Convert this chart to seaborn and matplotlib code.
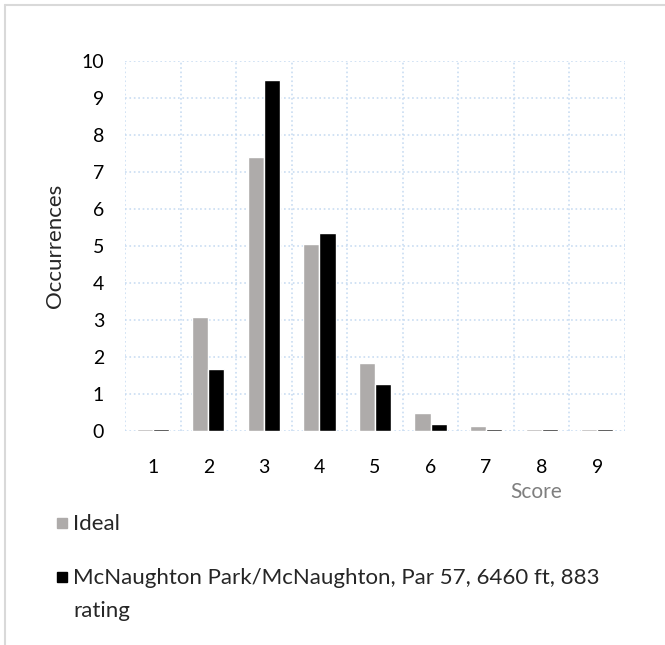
import numpy as np
import pandas as pd
import matplotlib
matplotlib.use('Agg')
import matplotlib.pyplot as plt
from matplotlib.patches import Rectangle
import seaborn as sns

# Данные
scores = [1, 2, 3, 4, 5, 6, 7, 8, 9]
ideal = [0.05, 3.07, 7.40, 5.05, 1.83, 0.50, 0.13, 0.05, 0.05]
course = [0.05, 1.68, 9.50, 5.36, 1.27, 0.18, 0.05, 0.05, 0.05]
series_names = ['Ideal', 'McNaughton Park/McNaughton, Par 57, 6460 ft, 883\nrating']

COLORS = {'ideal': '#AEABAA', 'course': '#000000', 'grid': '#C9DDF2'}

df = pd.DataFrame({
    'Score': scores * 2,
    'Occurrences': ideal + course,
    'Series': [series_names[0]] * len(scores) + [series_names[1]] * len(scores),
})

sns.set_style('white')
plt.rcParams['font.family'] = ['Lato', 'DejaVu Sans']

fig = plt.figure(figsize=(6.65, 6.45), dpi=100)
ax = fig.add_axes([125 / 665, 1 - 431 / 645, 500 / 665, 370 / 645])

sns.barplot(data=df, x='Score', y='Occurrences', hue='Series',
            palette=[COLORS['ideal'], COLORS['course']], width=0.58,
            saturation=1, ax=ax, legend=False)

ax.set_ylim(0, 10)
ax.set_xlim(-0.5, len(scores) - 0.5)
ax.set_yticks(range(0, 11))
ax.set_xticks(np.arange(-0.5, len(scores), 1), minor=True)
ax.grid(True, which='major', axis='y', color=COLORS['grid'], linestyle=':', linewidth=1.2)
ax.grid(True, which='minor', axis='x', color=COLORS['grid'], linestyle=':', linewidth=1.2)
ax.set_axisbelow(True)
for s in ax.spines.values():
    s.set_visible(False)
ax.tick_params(axis='both', which='both', length=0, labelsize=14, colors='#000000')
ax.tick_params(axis='y', pad=15)
ax.tick_params(axis='x', pad=20)

ax.set_xlabel('')
ax.set_ylabel('Occurrences', fontsize=16, labelpad=12)
fig.text(536 / 665, 1 - 492 / 645, 'Score', fontsize=15, color='#7F7F7F',
         ha='center', va='center')

# Легенда под графиком (вручную, как в Excel)
legend_rows = [(523, COLORS['ideal']), (577, COLORS['course'])]
for (ypix, col), name in zip(legend_rows, series_names):
    fig.add_artist(Rectangle((57 / 665, 1 - (ypix + 5) / 645), 10 / 665, 10 / 645,
                             transform=fig.transFigure, color=col))
    fig.text(73 / 665, 1 - (ypix - 9) / 645, name, fontsize=16, va='top',
             ha='left', linespacing=1.8)

# Рамка рисунка (верх и левый край)
fig.add_artist(plt.Line2D([5 / 665, 1], [1 - 5 / 645] * 2, transform=fig.transFigure,
                          color='#D9D9D9', linewidth=1.5))
fig.add_artist(plt.Line2D([5 / 665] * 2, [0, 1 - 5 / 645], transform=fig.transFigure,
                          color='#D9D9D9', linewidth=1.5))

fig.savefig('out.png', dpi=100)
